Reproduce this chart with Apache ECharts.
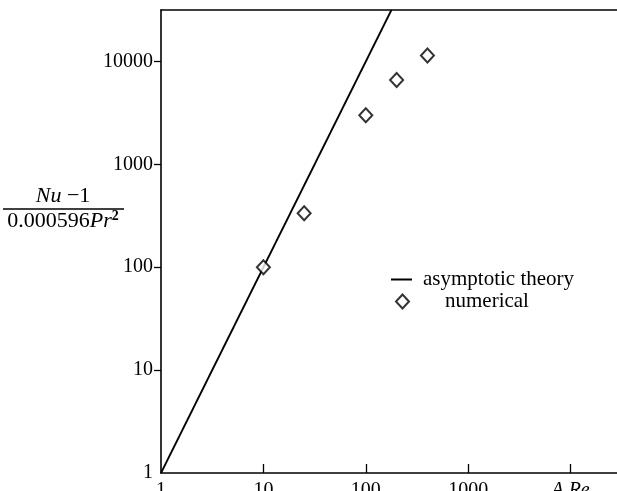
<!DOCTYPE html>
<html>
<head>
<meta charset="utf-8">
<script src="https://cdn.jsdelivr.net/npm/echarts@6/dist/echarts.min.js"></script>
<style>
  html, body { margin: 0; padding: 0; background: #fff; }
  #chart { width: 617px; height: 491px; }
</style>
</head>
<body>
<div id="chart"></div>
<script>
// Asymptotic theory: (Nu - 1)/(0.000596 Pr^2) grows as (A Re)^2
const theoryARe = [1, 178];
const theoryValue = [1, 31623];

// Numerical results
const numARe = [10, 25, 100, 200, 400];
const numValue = [100, 335, 3000, 6600, 11400];

// Axis ranges, tick positions and tick text
const xRange = [1, 28400];
const yRange = [1, 31623];
const xTickValues = [10, 100, 1000, 10000];
const xLabelValues = [1, 10, 100, 1000, 10000];
const xTickText = { 1: '1', 10: '10', 100: '100', 1000: '1000', 10000: '{i|A Re}' };
const yTickValues = [10, 100, 1000, 10000];
const yLabelValues = [1, 10, 100, 1000, 10000];

const FONT = '"Liberation Serif", "Times New Roman", serif';

const chart = echarts.init(document.getElementById('chart'));

const theoryData = theoryARe.map((x, i) => [x, theoryValue[i]]);
const numData = numARe.map((x, i) => [x, numValue[i]]);

chart.setOption({
  animation: false,
  backgroundColor: '#fff',
  grid: { left: 161, right: 0, top: 10, bottom: 18, outerBoundsMode: 'none', containLabel: false },
  xAxis: [{
    type: 'log',
    logBase: 10,
    min: xRange[0],
    max: xRange[1],
    axisLine: { show: true, lineStyle: { color: '#000', width: 1.6 } },
    axisTick: { show: true, inside: true, length: 9, customValues: xTickValues,
                lineStyle: { color: '#000', width: 1.3 } },
    splitLine: { show: false },
    axisLabel: {
      show: true,
      margin: 8,
      customValues: xLabelValues,
      color: '#000',
      fontFamily: FONT,
      fontSize: 20,
      formatter: v => xTickText[Math.round(v)] || '',
      rich: { i: { fontStyle: 'italic', fontFamily: FONT, fontSize: 20, color: '#000' } }
    }
  }, {
    type: 'log',
    logBase: 10,
    position: 'top',
    min: xRange[0],
    max: xRange[1],
    axisLine: { show: true, lineStyle: { color: '#000', width: 1.6 } },
    axisTick: { show: false },
    axisLabel: { show: false },
    splitLine: { show: false }
  }],
  yAxis: {
    type: 'log',
    logBase: 10,
    min: yRange[0],
    max: yRange[1],
    axisLine: { show: true, lineStyle: { color: '#000', width: 1.6 } },
    axisTick: { show: true, inside: false, length: 7, customValues: yTickValues,
                lineStyle: { color: '#000', width: 1.3 } },
    splitLine: { show: false },
    axisLabel: {
      margin: 8,
      customValues: yLabelValues,
      color: '#000',
      fontFamily: FONT,
      fontSize: 20,
      formatter: v => String(Math.round(v))
    }
  },
  legend: [{
    data: ['asymptotic theory'],
    left: 386,
    top: 264,
    orient: 'vertical',
    icon: 'rect',
    itemWidth: 21,
    itemHeight: 2,
    textStyle: { color: '#000', fontFamily: FONT, fontSize: 21, padding: [0, 0, 0, 6] }
  }, {
    data: ['numerical'],
    left: 390,
    top: 286,
    orient: 'vertical',
    itemWidth: 13,
    itemHeight: 14,
    textStyle: { color: '#000', fontFamily: FONT, fontSize: 21, padding: [0, 0, 0, 31] }
  }],
  graphic: [{
    type: 'text',
    style: {
      x: 63, y: 207,
      text: '{i|Nu} −1',
      align: 'center',
      verticalAlign: 'bottom',
      fill: '#000',
      font: '22px ' + FONT,
      rich: { i: { fontStyle: 'italic', fontFamily: FONT, fontSize: 22, fill: '#000' } }
    }
  }, {
    type: 'line',
    shape: { x1: 3, y1: 209, x2: 124, y2: 209 },
    style: { stroke: '#000', lineWidth: 1.4 }
  }, {
    type: 'text',
    style: {
      x: 63, y: 209,
      text: '0.000596{i|Pr}{s|2}',
      align: 'center',
      verticalAlign: 'top',
      fill: '#000',
      font: '22px ' + FONT,
      rich: {
        i: { fontStyle: 'italic', fontFamily: FONT, fontSize: 22, fill: '#000' },
        s: { fontFamily: FONT, fontSize: 14, fontWeight: 'bold', fill: '#000', verticalAlign: 'top', padding: [0, 0, 10, 0] }
      }
    }
  }],
  series: [{
    name: 'asymptotic theory',
    type: 'line',
    data: theoryData,
    showSymbol: false,
    symbol: 'none',
    lineStyle: { color: '#000', width: 1.8 },
    itemStyle: { color: '#000' },
    clip: true
  }, {
    name: 'numerical',
    type: 'scatter',
    data: numData,
    symbol: 'diamond',
    symbolSize: [13, 14],
    itemStyle: { color: '#fff', borderColor: '#000', borderWidth: 2 },
    z: 5
  }]
});
</script>
</body>
</html>
